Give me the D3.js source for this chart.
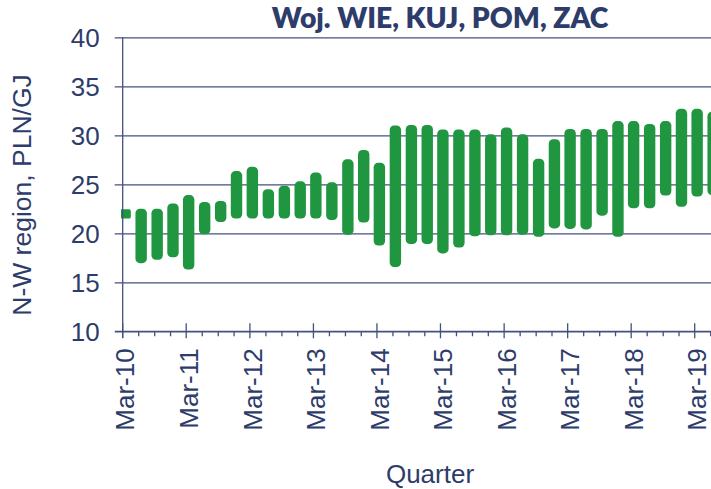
<!DOCTYPE html>
<html><head><meta charset="utf-8">
<script src="https://cdn.jsdelivr.net/npm/d3@7"></script>
<style>body{margin:0;background:#fff}svg{display:block}</style>
</head><body>
<svg id="c" width="711" height="489"></svg>
<script>
// Quarters (bar dates: mid-month of each quarter)
const quarters = ["2010-03","2010-06","2010-09","2010-12","2011-03","2011-06","2011-09","2011-12",
"2012-03","2012-06","2012-09","2012-12","2013-03","2013-06","2013-09","2013-12",
"2014-03","2014-06","2014-09","2014-12","2015-03","2015-06","2015-09","2015-12",
"2016-03","2016-06","2016-09","2016-12","2017-03","2017-06","2017-09","2017-12",
"2018-03","2018-06","2018-09","2018-12","2019-03","2019-06"];
const lows = [21.5,16.95,17.3,17.55,16.3,19.9,21.15,21.5,21.5,21.5,21.5,21.5,21.5,21.35,19.85,21.1,
18.75,16.55,18.9,18.9,17.95,18.55,19.7,19.8,19.8,19.85,19.65,20.5,20.45,20.4,21.8,19.65,
22.55,22.55,23.85,22.7,23.75,23.9];
const highs = [22.45,22.5,22.5,23.05,23.9,23.2,23.3,26.35,26.8,24.5,24.85,25.3,26.2,25.2,27.55,28.5,
27.2,31.0,31.05,31.05,30.6,30.6,30.6,30.1,30.8,30.1,27.6,29.6,30.65,30.65,30.65,31.45,
31.45,31.15,31.45,32.7,32.7,32.4];
const yTicks = [10,15,20,25,30,35,40];
const title = "Woj. WIE, KUJ, POM, ZAC";
const yLabel = "N-W region, PLN/GJ";
const xLabel = "Quarter";

const navy = "#2d3c6a", grid = "#44507e", green = "#1f963f";
const font = "'Liberation Sans', Arial, sans-serif";
const svg = d3.select("#c");
const parse = d3.utcParse("%Y-%m-%d");
const x = d3.scaleUtc().domain([parse("2010-03-01"), parse("2019-03-01")]).range([122.7, 694.7]);
const y = d3.scaleLinear().domain([10, 40]).range([331.3, 37.3]);

// gridlines + y axis
const yAxis = d3.axisLeft(y).tickValues(yTicks).tickSize(-(711 - 122.7)).tickSizeOuter(0).tickPadding(0);
const gy = svg.append("g").attr("transform", "translate(122.7,0)").call(yAxis);
gy.select(".domain").remove();
gy.selectAll(".tick line").attr("x1", -8).attr("stroke", grid).attr("stroke-width", 1.3);
gy.selectAll(".tick text").attr("x", -23).attr("dy", "0.36em").attr("fill", navy)
  .style("font-family", font).style("font-size", "26px");

// bars
const data = quarters.map((q, i) => ({d: parse(q + "-15"), lo: lows[i], hi: highs[i]}));
svg.append("clipPath").attr("id", "clip").append("rect").attr("x", 121).attr("y", 0).attr("width", 590).attr("height", 489);
const bw = 11.4;
svg.append("g").attr("clip-path", "url(#clip)").selectAll("rect").data(data).join("rect")
  .attr("x", d => x(d.d) - bw / 2).attr("width", bw)
  .attr("y", d => y(d.hi)).attr("height", d => y(d.lo) - y(d.hi))
  .attr("rx", d => Math.min(4.5, (y(d.lo) - y(d.hi)) / 5))
  .attr("ry", d => Math.min(4.5, (y(d.lo) - y(d.hi)) / 5))
  .attr("fill", green);

// y axis line
svg.append("line").attr("x1", 122.7).attr("x2", 122.7).attr("y1", y(40)).attr("y2", 338).attr("stroke", grid).attr("stroke-width", 1.3);

// x axis
const qTicks = d3.utcMonth.range(parse("2010-03-01"), parse("2019-07-01"), 3);
const isMajor = d => d.getUTCMonth() === 2;
const gx = svg.append("g").attr("transform", "translate(0,331.3)");
gx.append("line").attr("x1", 115).attr("x2", 711).attr("stroke", grid).attr("stroke-width", 1.3);
gx.selectAll("line.t").data(qTicks).join("line").attr("class", "t")
  .attr("x1", d => x(d)).attr("x2", d => x(d))
  .attr("y1", d => isMajor(d) ? -8 : 0).attr("y2", d => isMajor(d) ? 7 : 5)
  .attr("stroke", grid).attr("stroke-width", 1.3);
const fmt = d3.utcFormat("%b-%y");
gx.selectAll("text.lbl").data(qTicks.filter(isMajor)).join("text").attr("class", "lbl")
  .attr("transform", d => `translate(${x(d)},17) rotate(-90)`)
  .attr("text-anchor", "end").attr("dy", "0.45em").attr("fill", navy)
  .style("font-family", font).style("font-size", "26px")
  .text(fmt);

// axis titles
svg.append("text").attr("transform", "translate(31,195) rotate(-90)").attr("text-anchor", "middle")
  .attr("fill", navy).style("font-family", font).style("font-size", "26.5px").text(yLabel);
svg.append("text").attr("x", 430).attr("y", 483).attr("text-anchor", "middle")
  .attr("fill", navy).style("font-family", font).style("font-size", "26px").text(xLabel);

// title
const t = svg.append("text").attr("x", 440).attr("y", 28).attr("text-anchor", "middle")
  .attr("fill", navy).style("font-family", "Lato, 'Open Sans', sans-serif").style("font-weight", "800")
  .style("font-size", "26px").text(title);
const w = t.node().getComputedTextLength();
if (w > 0) t.style("font-size", (26 * 337 / w) + "px");
</script>
</body></html>
